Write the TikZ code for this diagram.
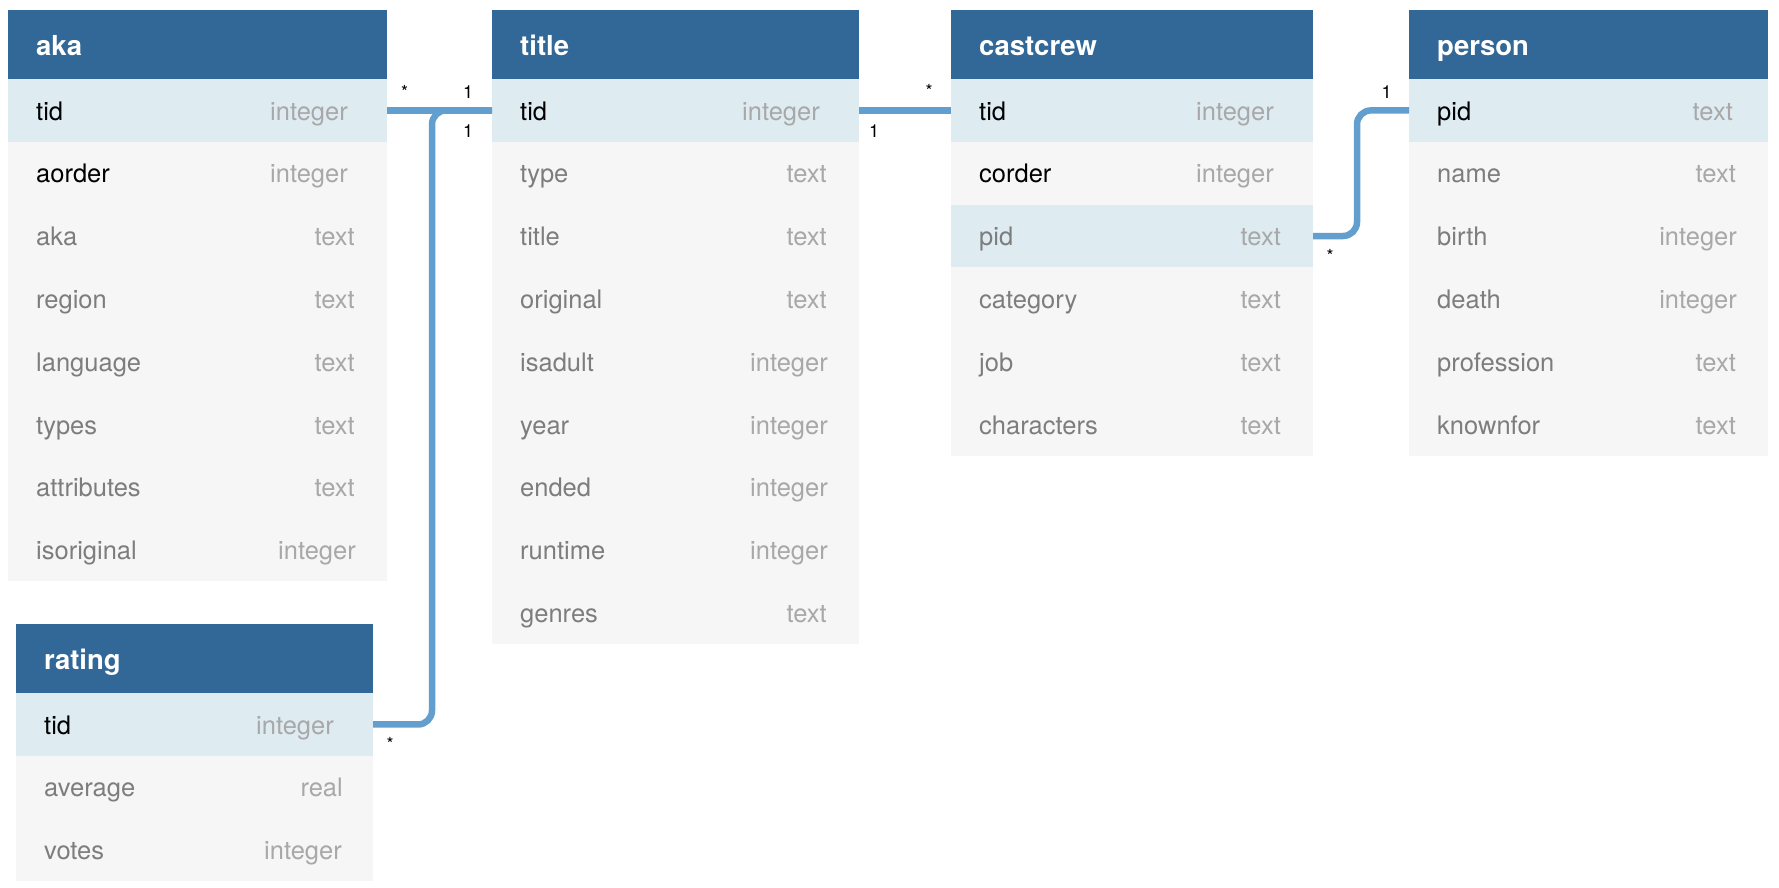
\documentclass[tikz,border=0pt]{standalone}
\usepackage{fontspec}
\setmainfont{TeX Gyre Heros}
\definecolor{hdrblue}{RGB}{50,104,151}
\definecolor{keybg}{RGB}{222,236,242}
\definecolor{rowbg}{RGB}{246,246,246}
\definecolor{connblue}{RGB}{98,158,206}
\definecolor{namegray}{RGB}{125,125,125}
\definecolor{typegray}{RGB}{168,168,168}
\tikzset{
  hdrbox/.style={fill=hdrblue, draw=none, anchor=north west, inner sep=0pt, outer sep=0pt, minimum height=69pt},
  rowbox/.style={fill=#1, draw=none, anchor=north west, inner sep=0pt, outer sep=0pt, minimum height=62.8pt},
  hdrtxt/.style={anchor=base west, inner sep=0pt, text=white, font=\fontsize{27.5}{32}\selectfont\bfseries},
  nametxt/.style={anchor=base west, inner sep=0pt, text=#1, font=\fontsize{25.5}{30}\selectfont},
  typetxt/.style={anchor=base east, inner sep=0pt, text=typegray, font=\fontsize{25.5}{30}\selectfont},
  conn/.style={draw=connblue, line width=6.5pt},
  card/.style={anchor=base, inner sep=0pt, text=black, font=\fontsize{18}{20}\selectfont}
}
\newcommand{\dbtable}[6]{%
  \node[hdrbox, minimum width={#3-#2}] (#1) at (#2,#4) {};
  \node[hdrtxt] (#1-h) at ({#2+28},{#4+45}) {#5};
  \foreach \n/\t/\s/\c/\o [count=\i from 0] in {#6}{
    \node[rowbox=\s, minimum width={#3-#2}] (#1-\n) at (#2,{#4+69+\i*62.8}) {};
    \node[nametxt=\c] (#1-\n-name) at ({#2+28},{#4+69+\i*62.8+41}) {\n};
    \node[typetxt] (#1-\n-type) at ({#3-\o},{#4+69+\i*62.8+41}) {\t};
  }
}
\begin{document}
\begin{tikzpicture}[x=1pt,y=-1pt]
\useasboundingbox (0,0) rectangle (1779,887);
\dbtable{aka}{8}{387}{10}{aka}{tid/integer/keybg/black/39, aorder/integer/rowbg/black/39, aka/text/rowbg/namegray/32, region/text/rowbg/namegray/32, language/text/rowbg/namegray/32, types/text/rowbg/namegray/32, attributes/text/rowbg/namegray/32, isoriginal/integer/rowbg/namegray/31}
\dbtable{title}{492}{859}{10}{title}{tid/integer/keybg/black/39, type/text/rowbg/namegray/32, title/text/rowbg/namegray/32, original/text/rowbg/namegray/32, isadult/integer/rowbg/namegray/31, year/integer/rowbg/namegray/31, ended/integer/rowbg/namegray/31, runtime/integer/rowbg/namegray/31, genres/text/rowbg/namegray/32}
\dbtable{castcrew}{951}{1313}{10}{castcrew}{tid/integer/keybg/black/39, corder/integer/rowbg/black/39, pid/text/keybg/namegray/32, category/text/rowbg/namegray/32, job/text/rowbg/namegray/32, characters/text/rowbg/namegray/32}
\dbtable{person}{1409}{1768}{10}{person}{pid/text/keybg/black/35, name/text/rowbg/namegray/32, birth/integer/rowbg/namegray/31, death/integer/rowbg/namegray/31, profession/text/rowbg/namegray/32, knownfor/text/rowbg/namegray/32}
\dbtable{rating}{16}{373}{624}{rating}{tid/integer/keybg/black/39, average/real/rowbg/namegray/30, votes/integer/rowbg/namegray/31}

\coordinate (bendA) at (432,724.5);
\coordinate (bendB) at (1357,236);
\draw[conn] (aka-tid.east) -- (title-tid.west);
\draw[conn, rounded corners=14pt] (rating-tid.east) -- (bendA) |- (title-tid.west);
\draw[conn] (title-tid.east) -- (castcrew-tid.west);
\draw[conn, rounded corners=14pt] (castcrew-pid.east) -- (bendB) |- (person-pid.west);

\node[card] (c1) at (404.5,98) {*};
\node[card] (c2) at (468,98) {1};
\node[card] (c3) at (468,137) {1};
\node[card] (c4) at (390,750) {*};
\node[card] (c5) at (929,97) {*};
\node[card] (c6) at (874,137) {1};
\node[card] (c7) at (1386.5,98) {1};
\node[card] (c8) at (1330,262) {*};
\end{tikzpicture}
\end{document}
